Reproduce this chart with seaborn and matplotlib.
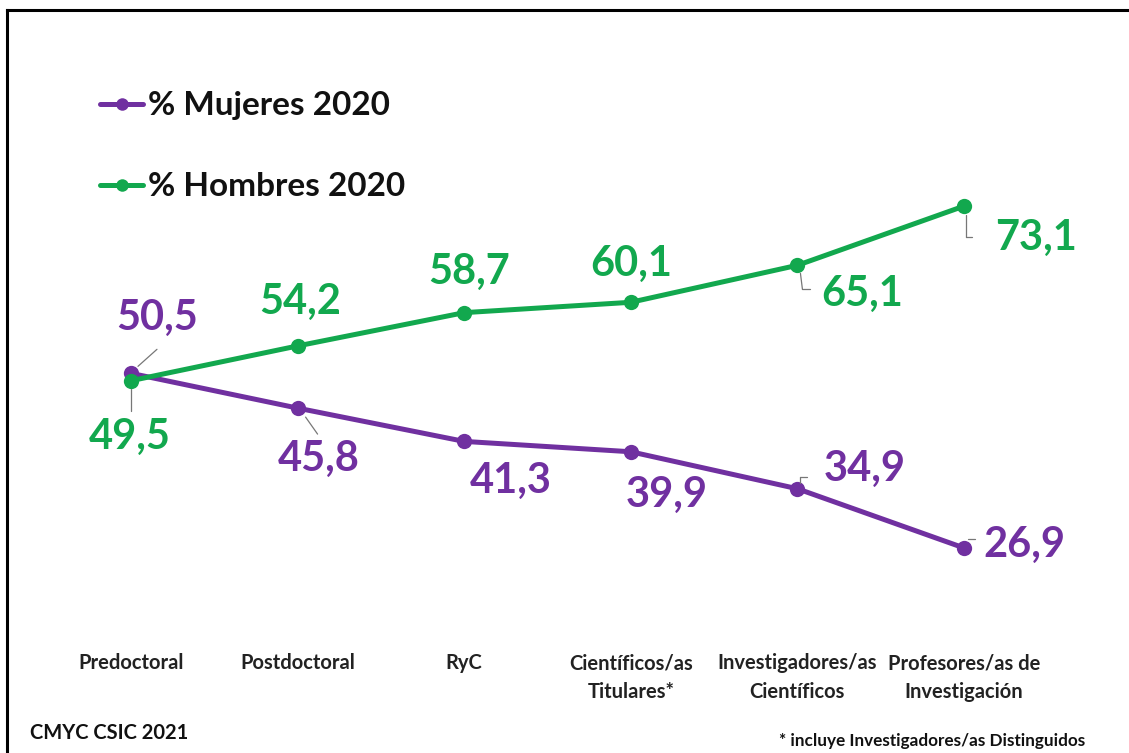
import pandas as pd
import matplotlib.pyplot as plt
import seaborn as sns

# Data
categories = ['Predoctoral', 'Postdoctoral', 'RyC', 'Científicos/as\nTitulares*',
              'Investigadores/as\nCientíficos', 'Profesores/as de\nInvestigación']
mujeres = [50.5, 45.8, 41.3, 39.9, 34.9, 26.9]
hombres = [49.5, 54.2, 58.7, 60.1, 65.1, 73.1]

# label offsets in pixels (text centre relative to point)
off_muj = [(26, 55), (21, -51), (47, -40), (36, -43), (67, 20), (60, 3)]
off_hom = [(-1, -56), (3, 44), (5, 41), (0, 38), (65, -29), (72, -32)]

purple = '#7030A0'
green = '#12A84E'

sns.set_theme(style='white')
plt.rcParams['font.family'] = ['Lato', 'DejaVu Sans']

fig = plt.figure(figsize=(11.29, 7.53), dpi=100)
ax = fig.add_axes([7 / 1129, 0, 1 - 7 / 1129, 1 - 10 / 753])

df = pd.DataFrame({'pos': list(range(len(categories))) * 2,
                   'valor': mujeres + hombres,
                   'serie': ['% Mujeres 2020'] * 6 + ['% Hombres 2020'] * 6})

sns.lineplot(data=df, x='pos', y='valor', hue='serie',
             palette={'% Mujeres 2020': purple, '% Hombres 2020': green},
             marker='o', markersize=11, markeredgewidth=0, linewidth=3.6, ax=ax)

ax.set_xlim(-0.744, 5.99)
ax.set_ylim(-0.81, 99.6)
ax.set_xticks([])
ax.set_yticks([])
ax.set_xlabel('')
ax.set_ylabel('')
for s in ['right', 'bottom']:
    ax.spines[s].set_visible(False)
for s in ['left', 'top']:
    ax.spines[s].set_color('black')
    ax.spines[s].set_linewidth(2.2)

# data labels
for values, offsets, color in [(mujeres, off_muj, purple), (hombres, off_hom, green)]:
    for i, (v, (dx, dy)) in enumerate(zip(values, offsets)):
        lab = f'{v:.1f}'.replace('.', ',')
        ax.annotate(lab, (i, v), xytext=(dx, dy), textcoords='offset pixels',
                    ha='center', va='center', fontsize=30, fontweight='bold',
                    color=color)


def seg(i, v, a, b):
    # leader line segment between two pixel offsets from a data point
    trans = ax.transData
    px, py = trans.transform((i, v))
    inv = trans.inverted()
    p1 = inv.transform((px + a[0], py + a[1]))
    p2 = inv.transform((px + b[0], py + b[1]))
    ax.plot([p1[0], p2[0]], [p1[1], p2[1]], color='#777777', lw=0.9)


fig.canvas.draw()
seg(0, mujeres[0], (7, 7), (26, 24))
seg(1, mujeres[1], (8, -9), (20, -26))
seg(4, mujeres[4], (3, 6), (3, 12))
seg(4, mujeres[4], (3, 12), (10, 12))
seg(5, mujeres[5], (4, 9), (11, 9))
seg(0, hombres[0], (0, -8), (0, -30))
seg(4, hombres[4], (3, -8), (5, -24))
seg(4, hombres[4], (5, -24), (13, -24))
seg(5, hombres[5], (2, -9), (2, -31))
seg(5, hombres[5], (2, -31), (8, -31))

for i, cat in enumerate(categories):
    ax.text(i, 0.134, cat, transform=ax.get_xaxis_transform(), ha='center', va='top',
            fontsize=14.5, fontweight='bold', color='#222222', linespacing=1.55)

leg = ax.legend(loc='upper left', bbox_to_anchor=(0.068, 0.913), frameon=False,
                fontsize=24, handlelength=1.3, handletextpad=0.15, labelspacing=1.56,
                borderpad=0)
for t in leg.get_texts():
    t.set_fontweight('bold')
    t.set_color('#111111')
for h in leg.legend_handles:
    h.set_markersize(9)

fig.text(30 / 1129, 1 - 733 / 753, 'CMYC CSIC 2021', ha='left', va='center',
         fontsize=14.5, fontweight='bold', color='#111111')
fig.text(1085 / 1129, 1 - 741 / 753, '* incluye Investigadores/as Distinguidos',
         ha='right', va='center', fontsize=12.3, fontweight='bold', color='#111111')

fig.savefig('out.png', dpi=100)
